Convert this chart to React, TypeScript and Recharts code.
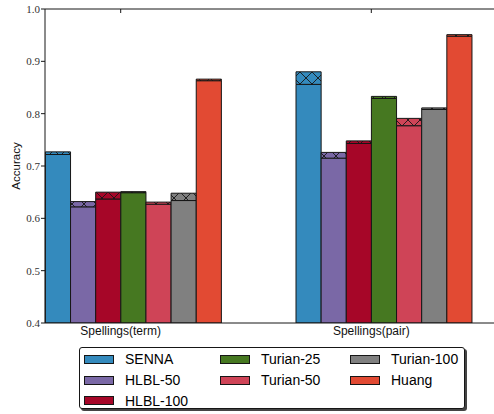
import { BarChart, Bar, XAxis, YAxis, Legend, Label } from 'recharts'

const groups = ['Spellings(term)', 'Spellings(pair)']
const models = ['SENNA', 'HLBL-50', 'HLBL-100', 'Turian-25', 'Turian-50', 'Turian-100', 'Huang']
const modelColors = ['#348ABD', '#7A68A6', '#A60628', '#467821', '#CF4457', '#808080', '#E24A33']

// lower edge of the hatched cap, and its upper edge
const termLow = [0.722, 0.622, 0.637, 0.649, 0.627, 0.634, 0.863]
const termHigh = [0.727, 0.632, 0.65, 0.651, 0.631, 0.648, 0.866]
const pairLow = [0.856, 0.715, 0.743, 0.829, 0.777, 0.808, 0.948]
const pairHigh = [0.88, 0.726, 0.748, 0.833, 0.791, 0.811, 0.951]

const yTicks = [0.4, 0.5, 0.6, 0.7, 0.8, 0.9, 1.0]

const data = groups.map((group, g) => {
  const low = g === 0 ? termLow : pairLow
  const high = g === 0 ? termHigh : pairHigh
  const row: Record<string, string | number> = { group }
  models.forEach((_, i) => {
    row[`m${i}`] = low[i]
    row[`m${i}cap`] = +(high[i] - low[i]).toFixed(4)
  })
  return row
})

const SANS = '"Liberation Sans", Arial, sans-serif'
const SERIF = '"Liberation Serif", "Times New Roman", serif'
const EDGE = '#161616'

// matplotlib-ish layout: groups are left-aligned in their slot, labels sit on the 4th bar's edge
const barPadding = { left: -36.6, right: -13.6 }
const labelPadding = { left: -49.6, right: -0.6 }

function LegendBox() {
  const cols = [
    [0, 1, 2],
    [3, 4],
    [5, 6],
  ]
  const colLeft = [4, 140, 270]
  return (
    <div
      style={{
        position: 'relative',
        width: 386,
        height: 62,
        boxSizing: 'border-box',
        border: `1px solid ${EDGE}`,
        borderRadius: 3,
        background: '#fff',
        boxShadow: '2px 2px 0 #444',
        fontFamily: SANS,
        fontSize: 14,
        color: '#000',
      }}
    >
      {cols.map((col, c) =>
        col.map((i, r) => (
          <div
            key={models[i]}
            style={{
              position: 'absolute',
              left: colLeft[c],
              top: 1 + r * 20.7,
              height: 20.7,
              display: 'flex',
              alignItems: 'center',
              whiteSpace: 'nowrap',
            }}
          >
            <span
              style={{
                display: 'inline-block',
                width: 30,
                height: 9,
                boxSizing: 'border-box',
                border: `1px solid ${EDGE}`,
                background: modelColors[i],
                marginRight: 11,
              }}
            />
            {models[i]}
          </div>
        ))
      )}
    </div>
  )
}

export default function App() {
  return (
    <div
      style={{
        position: 'fixed',
        left: 0,
        top: 0,
        width: 494,
        height: 414,
        overflow: 'hidden',
        background: '#fff',
      }}
    >
      <BarChart
        width={496}
        height={414}
        data={data}
        margin={{ top: 9, right: 0, bottom: 0, left: 0 }}
        barGap={0}
        barSize={25.14}
      >
        <defs>
          {modelColors.map((color, i) => (
            <pattern
              key={i}
              id={`hatch${i}`}
              patternUnits="userSpaceOnUse"
              width={12}
              height={12}
            >
              <rect width={12} height={12} fill={color} />
              <path d="M-1 -1L13 13M13 -1L-1 13" stroke={EDGE} strokeWidth={0.9} />
            </pattern>
          ))}
        </defs>

        <XAxis
          xAxisId="labels"
          dataKey="group"
          height={91}
          padding={labelPadding}
          tickLine={false}
          tickSize={0}
          tickMargin={3}
          axisLine={{ stroke: EDGE }}
          tick={{ fontFamily: SANS, fontSize: 12, fill: '#111' }}
        />
        <XAxis xAxisId="bars" dataKey="group" hide height={0} padding={barPadding} />
        <XAxis
          xAxisId="top"
          dataKey="group"
          orientation="top"
          mirror
          padding={labelPadding}
          tickSize={4}
          tickLine={{ stroke: EDGE }}
          axisLine={{ stroke: EDGE }}
          tickFormatter={() => ''}
        />

        <YAxis
          yAxisId="left"
          type="number"
          domain={[0.4, 1.0]}
          ticks={yTicks}
          allowDataOverflow
          width={45}
          tickSize={4}
          tickMargin={1}
          axisLine={{ stroke: EDGE }}
          tickLine={{ stroke: EDGE }}
          tick={{ fontFamily: SERIF, fontSize: 11, fill: '#333' }}
          tickFormatter={(v: number) => v.toFixed(1)}
        >
          <Label
            content={({ viewBox }: any) => {
              const cx = 16
              const cy = viewBox.y + viewBox.height / 2
              return (
                <text
                  x={cx}
                  y={cy}
                  transform={`rotate(-90 ${cx} ${cy})`}
                  textAnchor="middle"
                  dominantBaseline="central"
                  fontFamily={SANS}
                  fontSize={11.5}
                  fill="#111"
                >
                  Accuracy
                </text>
              )
            }}
          />
        </YAxis>
        <YAxis
          yAxisId="right"
          orientation="right"
          type="number"
          domain={[0.4, 1.0]}
          ticks={yTicks}
          mirror
          tickSize={4}
          axisLine={{ stroke: EDGE }}
          tickLine={{ stroke: EDGE }}
          tickFormatter={() => ''}
        />

        {models.map((name, i) => [
          <Bar
            key={`b${i}`}
            xAxisId="bars"
            yAxisId="left"
            dataKey={`m${i}`}
            stackId={`s${i}`}
            name={name}
            fill={modelColors[i]}
            stroke={EDGE}
            strokeWidth={1}
            isAnimationActive={false}
          />,
          <Bar
            key={`c${i}`}
            xAxisId="bars"
            yAxisId="left"
            dataKey={`m${i}cap`}
            stackId={`s${i}`}
            legendType="none"
            fill={`url(#hatch${i})`}
            stroke={EDGE}
            strokeWidth={1}
            isAnimationActive={false}
          />,
        ])}

        <Legend
          layout="horizontal"
          verticalAlign="middle"
          align="center"
          wrapperStyle={{ left: 79, top: 347, width: 390, height: 66 }}
          content={() => <LegendBox />}
        />
      </BarChart>
    </div>
  )
}
